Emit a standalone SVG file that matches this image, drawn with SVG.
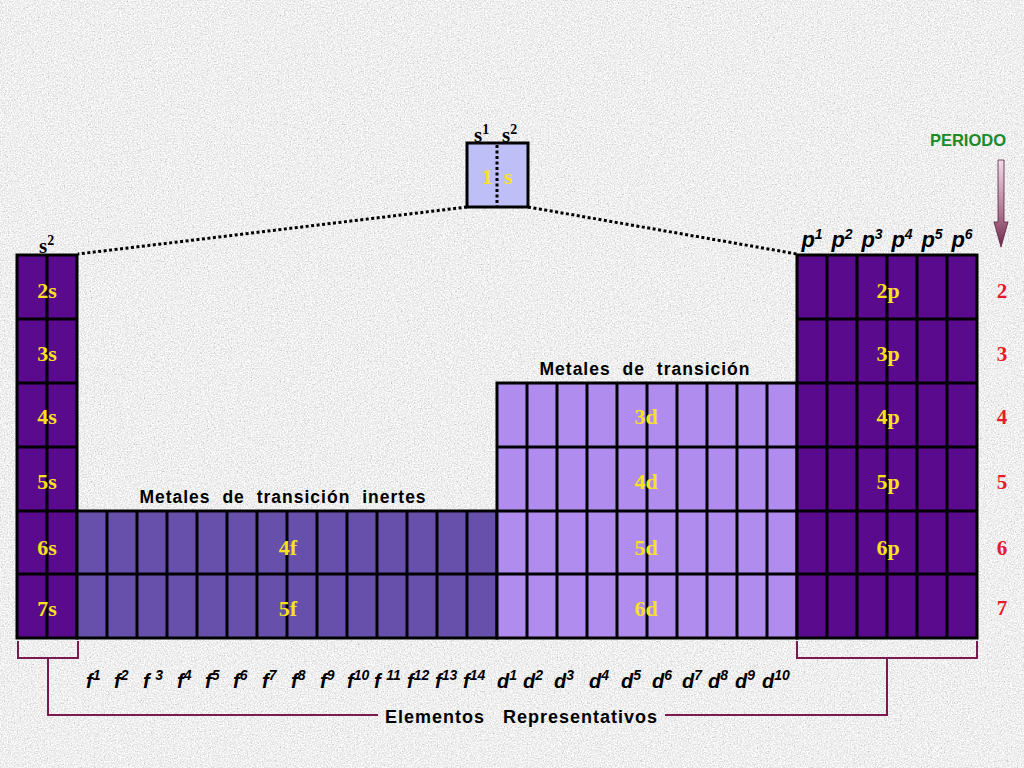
<svg xmlns="http://www.w3.org/2000/svg" width="1024" height="768" viewBox="0 0 1024 768">
<defs>
<filter id="grain" x="0" y="0" width="1024" height="768" filterUnits="userSpaceOnUse">
<feTurbulence type="fractalNoise" baseFrequency="0.7" numOctaves="3" seed="7" result="n"/>
<feColorMatrix in="n" type="matrix" values="0.4 0.4 0.4 0 0.26  0.4 0.4 0.4 0 0.26  0.4 0.4 0.4 0 0.26  0 0 0 0 1"/>
</filter>
<linearGradient id="arrowGrad" x1="0" y1="0" x2="0" y2="1">
<stop offset="0" stop-color="#f2dce8"/>
<stop offset="0.6" stop-color="#b07890"/>
<stop offset="1" stop-color="#6e2a4c"/>
</linearGradient>
<style>
.grid{stroke:#000;stroke-width:3;fill:none}
.sp{fill:#5a0a8c}
.f{fill:#6650ac}
.d{fill:#b08cee}
.box1s{fill:#bfbff7;stroke:#000;stroke-width:3}
.dot{stroke:#000;stroke-width:3;stroke-dasharray:3 2.5;fill:none}
.br{stroke:#7a1a50;stroke-width:2;fill:none}
.cell{font-family:"Liberation Serif","Times New Roman",serif;font-weight:bold;font-size:22px;fill:#f8e21e;text-anchor:middle}
.per{font-family:"Liberation Serif","Times New Roman",serif;font-weight:bold;font-size:21px;fill:#e31b2b;text-anchor:middle}
.sl{font-family:"Liberation Serif","Times New Roman",serif;font-weight:bold;font-size:21px;fill:#000}
.slsup{font-size:14px}
.it{font-family:"Liberation Sans",Arial,sans-serif;font-weight:bold;font-style:italic;font-size:20px;fill:#000}
.itp{font-family:"Liberation Sans",Arial,sans-serif;font-weight:bold;font-style:italic;font-size:22px;fill:#000;text-anchor:middle}
.sup{font-size:14px}
.hd{font-family:"Liberation Sans",Arial,sans-serif;font-weight:bold;font-size:17.5px;fill:#000;letter-spacing:1px;word-spacing:6px;text-anchor:middle}
.er{font-family:"Liberation Sans",Arial,sans-serif;font-weight:bold;font-size:18px;fill:#000;letter-spacing:1px;word-spacing:12px}
.pe{font-family:"Liberation Sans",Arial,sans-serif;font-weight:bold;font-size:16.5px;fill:#1a8a2a;text-anchor:middle}
</style>
</defs>
<rect x="0" y="0" width="1024" height="768" fill="#dedede"/>
<rect x="0" y="0" width="1024" height="768" filter="url(#grain)"/>

<g id="connectors">
<line class="dot" x1="467" y1="207" x2="78" y2="254"/>
<line class="dot" x1="528" y1="207" x2="797" y2="254"/>
<path class="br" d="M18,641 V658 H78 V641 M48,658 V715 H378"/>
<path class="br" d="M797,641 V658 H977 V641 M887,658 V715 H665"/>
</g>

<g id="box-1s">
<rect class="box1s" x="467" y="143" width="61" height="64"/>
<line class="dot" x1="497" y1="145" x2="497" y2="206"/>
<text class="cell" x="487" y="184">1</text>
<text class="cell" x="508" y="184">s</text>
<text class="sl" x="474" y="142">s<tspan class="slsup" dy="-8">1</tspan></text>
<text class="sl" x="502" y="142">s<tspan class="slsup" dy="-8">2</tspan></text>
</g>

<g id="s-block">
<rect class="sp" x="17" y="255" width="60" height="383"/>
<path class="grid" d="M17,255 H77 V638 H17 Z M17,319 H77 M17,383 H77 M17,447 H77 M17,511 H77 M17,574 H77 M47,255 V638"/>
<text class="sl" x="39" y="253">s<tspan class="slsup" dy="-8">2</tspan></text>
<text class="cell" x="47" y="298">2s</text>
<text class="cell" x="47" y="361">3s</text>
<text class="cell" x="47" y="424">4s</text>
<text class="cell" x="47" y="489">5s</text>
<text class="cell" x="47" y="555">6s</text>
<text class="cell" x="47" y="616">7s</text>
</g>

<g id="f-block">
<rect class="f" x="77" y="511" width="420" height="127"/>
<path class="grid" d="M77,511 H497 V638 H77 Z M77,574 H497 M107,511 V638 M137,511 V638 M167,511 V638 M197,511 V638 M227,511 V638 M257,511 V638 M287,511 V638 M317,511 V638 M347,511 V638 M377,511 V638 M407,511 V638 M437,511 V638 M467,511 V638"/>
<text class="hd" x="283" y="503">Metales de transición inertes</text>
<text class="cell" x="288" y="555">4f</text>
<text class="cell" x="288" y="616">5f</text>
</g>

<g id="d-block">
<rect class="d" x="497" y="383" width="300" height="255"/>
<path class="grid" d="M497,383 H797 V638 H497 Z M497,447 H797 M497,511 H797 M497,574 H797 M527,383 V638 M557,383 V638 M587,383 V638 M617,383 V638 M647,383 V638 M677,383 V638 M707,383 V638 M737,383 V638 M767,383 V638"/>
<text class="hd" x="645" y="375">Metales de transición</text>
<text class="cell" x="646" y="424">3d</text>
<text class="cell" x="646" y="489">4d</text>
<text class="cell" x="646" y="555">5d</text>
<text class="cell" x="646" y="616">6d</text>
</g>

<g id="p-block">
<rect class="sp" x="797" y="255" width="180" height="383"/>
<path class="grid" d="M797,255 H977 V638 H797 Z M797,319 H977 M797,383 H977 M797,447 H977 M797,511 H977 M797,574 H977 M827,255 V638 M857,255 V638 M887,255 V638 M917,255 V638 M947,255 V638"/>
<text class="cell" x="888" y="298">2p</text>
<text class="cell" x="888" y="361">3p</text>
<text class="cell" x="888" y="424">4p</text>
<text class="cell" x="888" y="489">5p</text>
<text class="cell" x="888" y="555">6p</text>
<text class="itp" x="812" y="247">p<tspan class="sup" dy="-8">1</tspan></text>
<text class="itp" x="842" y="247">p<tspan class="sup" dy="-8">2</tspan></text>
<text class="itp" x="872" y="247">p<tspan class="sup" dy="-8">3</tspan></text>
<text class="itp" x="902" y="247">p<tspan class="sup" dy="-8">4</tspan></text>
<text class="itp" x="932" y="247">p<tspan class="sup" dy="-8">5</tspan></text>
<text class="itp" x="962" y="247">p<tspan class="sup" dy="-8">6</tspan></text>
</g>

<g id="periodo">
<text class="pe" x="968" y="146">PERIODO</text>
<path d="M998,160 H1004 V222 H1008 L1001,247 L994,222 H998 Z" fill="url(#arrowGrad)" stroke="#5a2040" stroke-width="0.8"/>
<text class="per" x="1002" y="298">2</text>
<text class="per" x="1002" y="361">3</text>
<text class="per" x="1002" y="424">4</text>
<text class="per" x="1002" y="489">5</text>
<text class="per" x="1002" y="555">6</text>
<text class="per" x="1002" y="615">7</text>
</g>

<g id="bottom-labels">
<text class="it" x="86" y="688">f<tspan class="sup" dy="-8">1</tspan></text>
<text class="it" x="114" y="688">f<tspan class="sup" dy="-8">2</tspan></text>
<text class="it" x="143" y="688">f <tspan class="sup" dy="-8">3</tspan></text>
<text class="it" x="177" y="688">f<tspan class="sup" dy="-8">4</tspan></text>
<text class="it" x="205" y="688">f<tspan class="sup" dy="-8">5</tspan></text>
<text class="it" x="233" y="688">f<tspan class="sup" dy="-8">6</tspan></text>
<text class="it" x="262" y="688">f<tspan class="sup" dy="-8">7</tspan></text>
<text class="it" x="291" y="688">f<tspan class="sup" dy="-8">8</tspan></text>
<text class="it" x="320" y="688">f<tspan class="sup" dy="-8">9</tspan></text>
<text class="it" x="347" y="688">f<tspan class="sup" dy="-8">10</tspan></text>
<text class="it" x="374" y="688">f <tspan class="sup" dy="-8">11</tspan></text>
<text class="it" x="407" y="688">f<tspan class="sup" dy="-8">12</tspan></text>
<text class="it" x="435" y="688">f<tspan class="sup" dy="-8">13</tspan></text>
<text class="it" x="463" y="688">f<tspan class="sup" dy="-8">14</tspan></text>
<text class="it" x="497" y="688">d<tspan class="sup" dy="-8">1</tspan></text>
<text class="it" x="523" y="688">d<tspan class="sup" dy="-8">2</tspan></text>
<text class="it" x="554" y="688">d<tspan class="sup" dy="-8">3</tspan></text>
<text class="it" x="589" y="688">d<tspan class="sup" dy="-8">4</tspan></text>
<text class="it" x="621" y="688">d<tspan class="sup" dy="-8">5</tspan></text>
<text class="it" x="652" y="688">d<tspan class="sup" dy="-8">6</tspan></text>
<text class="it" x="682" y="688">d<tspan class="sup" dy="-8">7</tspan></text>
<text class="it" x="708" y="688">d<tspan class="sup" dy="-8">8</tspan></text>
<text class="it" x="735" y="688">d<tspan class="sup" dy="-8">9</tspan></text>
<text class="it" x="762" y="688">d<tspan class="sup" dy="-8">10</tspan></text>
<text class="er" x="385" y="723">Elementos Representativos</text>
</g>
</svg>
